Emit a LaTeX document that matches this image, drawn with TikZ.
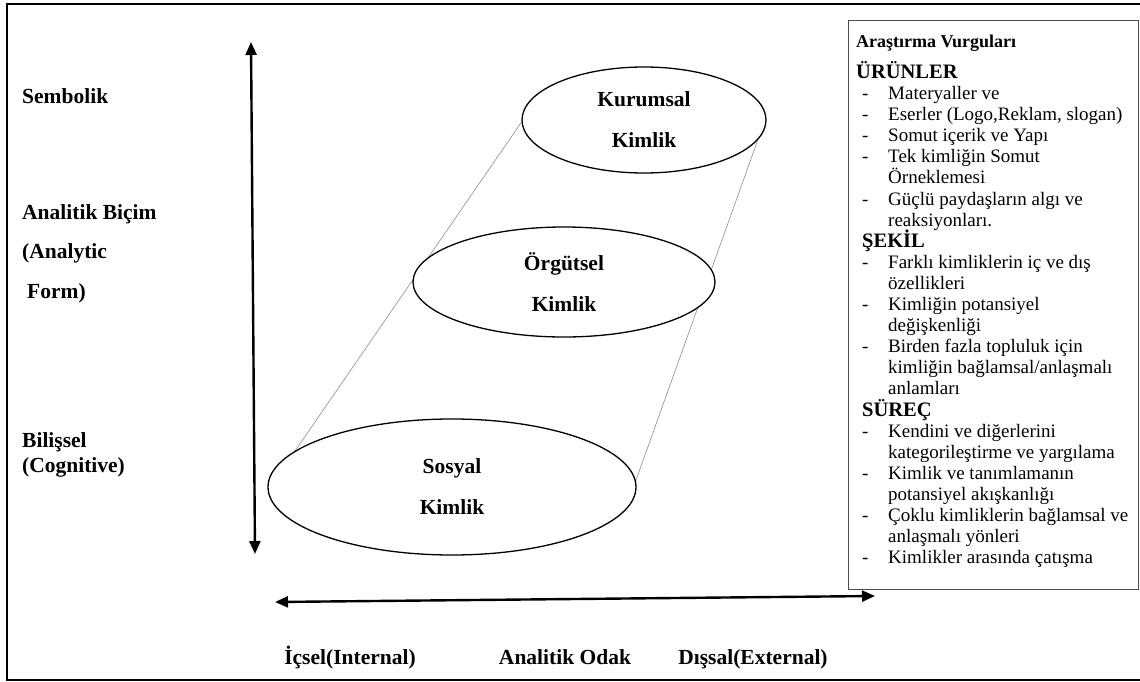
\documentclass[tikz,border=0pt]{standalone}
\usepackage{fontspec}
\setmainfont{Liberation Serif}
\usetikzlibrary{arrows.meta,shapes.geometric,backgrounds}
\begin{document}
\begin{tikzpicture}[x=1pt,y=-1pt,
  lab/.style={anchor=west,inner sep=0pt,text height=15pt,text depth=5pt,font=\fontsize{21.5}{25}\selectfont\bfseries},
  blab/.style={inner sep=0pt,text height=15pt,text depth=5pt,font=\fontsize{21.5}{25}\selectfont\bfseries},
  idn/.style={ellipse,draw,line width=1.3pt,fill=white,inner sep=0pt,align=center,font=\fontsize{21.5}{41}\selectfont\bfseries},
  itm/.style={anchor=west,inner sep=0pt,text height=13pt,text depth=4pt,font=\fontsize{19}{21}\selectfont},
  hd/.style={anchor=west,inner sep=0pt,text height=14pt,text depth=4pt,font=\fontsize{20.5}{22}\selectfont\bfseries},
  ttl/.style={anchor=west,inner sep=0pt,text height=13pt,text depth=4pt,font=\fontsize{18}{20}\selectfont\bfseries},
  axis/.style={line width=2.4pt,{Triangle[length=13pt,width=11pt]}-{Triangle[length=13pt,width=11pt]}},
  guide/.style={line width=0.6pt,black!45}]
\useasboundingbox (0,0) rectangle (1140,682);
% outer frame
\draw[line width=2.5pt] (1160,4) -- (7,4) -- (7,680) -- (1160,680);

% left labels
\node[lab] (sem) at (22,99) {Sembolik};
\node[lab] (ab) at (22,214) {Analitik Biçim};
\node[lab] (abe) at (22,253) {(Analytic};
\node[lab] (abf) at (27,293) {Form)};
\node[lab] (bil) at (22,442) {Bilişsel};
\node[lab] (bile) at (22,467) {(Cognitive)};

% axes
\coordinate (vtop) at (251,42);
\coordinate (vbot) at (255,554);
\draw[axis] (vbot) -- (vtop);
\coordinate (hl) at (275,602);
\coordinate (hr) at (875,596);
\draw[axis] (hl) -- (hr);

% bottom labels
\node[blab] (ic) at (350,659) {İçsel(Internal)};
\node[blab] (ao) at (565,659) {Analitik Odak};
\node[blab] (di) at (753,659) {Dışsal(External)};

% ellipses
\node[idn,minimum width=244pt,minimum height=106pt] (kur) at (644,120) {Kurumsal\\Kimlik};
\node[idn,minimum width=302pt,minimum height=110pt] (org) at (564,282) {Örgütsel\\Kimlik};
\node[idn,minimum width=368pt,minimum height=136pt] (sos) at (452,487) {Sosyal\\Kimlik};
\begin{scope}[on background layer]
\draw[guide] (kur.181) -- (sos.167);
\draw[guide] (kur.-10) -- (sos.2);
\end{scope}

% right box
\node[draw=black!70,line width=1pt,anchor=north west,minimum width=290pt,minimum height=569pt,inner sep=0pt] (box) at (848,20) {};
\node[ttl] (t0) at (856,43) {Araştırma Vurguları};
\node[hd] (h1) at (856,74) {ÜRÜNLER};
\node[itm] (d1) at (862,95) {-};
\node[itm] (l1) at (888,95) {Materyaller ve};
\node[itm] (d2) at (862,116.1) {-};
\node[itm] (l2) at (888,116.1) {Eserler (Logo,Reklam, slogan)};
\node[itm] (d3) at (862,137.2) {-};
\node[itm] (l3) at (888,137.2) {Somut içerik ve Yapı};
\node[itm] (d4) at (862,158.3) {-};
\node[itm] (l4) at (888,158.3) {Tek kimliğin Somut};
\node[itm] (l5) at (888,179.4) {Örneklemesi};
\node[itm] (d6) at (862,200.5) {-};
\node[itm] (l6) at (888,200.5) {Güçlü paydaşların algı ve};
\node[itm] (l7) at (888,221.6) {reaksiyonları.};
\node[hd] (h2) at (862,242.7) {ŞEKİL};
\node[itm] (d9) at (862,263.8) {-};
\node[itm] (l9) at (888,263.8) {Farklı kimliklerin iç ve dış};
\node[itm] (l10) at (888,284.9) {özellikleri};
\node[itm] (d11) at (862,306) {-};
\node[itm] (l11) at (888,306) {Kimliğin potansiyel};
\node[itm] (l12) at (888,327.1) {değişkenliği};
\node[itm] (d13) at (862,348.2) {-};
\node[itm] (l13) at (888,348.2) {Birden fazla topluluk için};
\node[itm] (l14) at (888,369.3) {kimliğin bağlamsal/anlaşmalı};
\node[itm] (l15) at (888,390.4) {anlamları};
\node[hd] (h3) at (862,411.5) {SÜREÇ};
\node[itm] (d17) at (862,432.6) {-};
\node[itm] (l17) at (888,432.6) {Kendini ve diğerlerini};
\node[itm] (l18) at (888,453.7) {kategorileştirme ve yargılama};
\node[itm] (d19) at (862,474.8) {-};
\node[itm] (l19) at (888,474.8) {Kimlik ve tanımlamanın};
\node[itm] (l20) at (888,495.9) {potansiyel akışkanlığı};
\node[itm] (d21) at (862,517) {-};
\node[itm] (l21) at (888,517) {Çoklu kimliklerin bağlamsal ve};
\node[itm] (l22) at (888,538.1) {anlaşmalı yönleri};
\node[itm] (d23) at (862,559.2) {-};
\node[itm] (l23) at (888,559.2) {Kimlikler arasında çatışma};
\end{tikzpicture}
\end{document}
